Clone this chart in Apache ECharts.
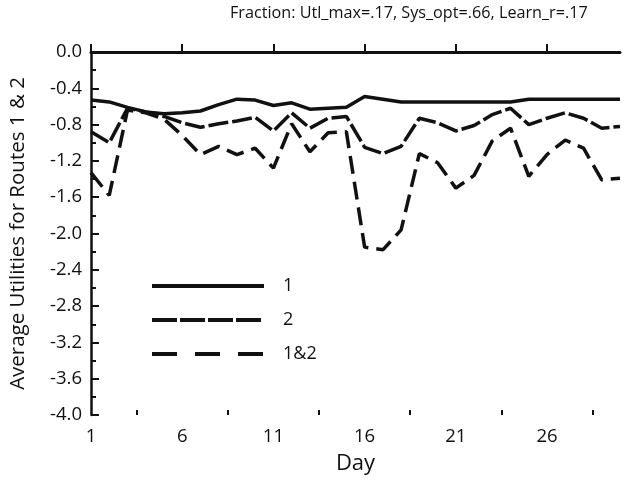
<!DOCTYPE html>
<html>
<head>
<meta charset="utf-8">
<script src="https://cdn.jsdelivr.net/npm/echarts@6/dist/echarts.min.js"></script>
<style>html,body{margin:0;padding:0;background:#fff}#c{width:630px;height:480px}</style>
</head>
<body>
<div id="c"></div>
<script>
var titleText = "Fraction: Utl_max=.17, Sys_opt=.66, Learn_r=.17";
var days = [1,2,3,4,5,6,7,8,9,10,11,12,13,14,15,16,17,18,19,20,21,22,23,24,25,26,27,28,29,30];
var route1 = [-0.53,-0.55,-0.61,-0.66,-0.68,-0.67,-0.65,-0.58,-0.52,-0.53,-0.59,-0.56,-0.63,-0.62,-0.61,-0.49,-0.52,-0.55,-0.55,-0.55,-0.55,-0.55,-0.55,-0.55,-0.52,-0.52,-0.52,-0.52,-0.52,-0.52];
var route2 = [-0.88,-1.00,-0.62,-0.66,-0.71,-0.78,-0.83,-0.79,-0.76,-0.72,-0.87,-0.67,-0.84,-0.73,-0.71,-1.05,-1.12,-1.04,-0.73,-0.78,-0.87,-0.81,-0.69,-0.62,-0.80,-0.73,-0.67,-0.73,-0.84,-0.82];
var route12 = [-1.33,-1.58,-0.64,-0.67,-0.74,-0.92,-1.13,-1.04,-1.13,-1.06,-1.28,-0.79,-1.10,-0.89,-0.88,-2.15,-2.18,-1.96,-1.12,-1.22,-1.50,-1.36,-0.98,-0.84,-1.37,-1.13,-0.97,-1.06,-1.41,-1.39];
var seriesNames = ["1","2","1&2"];
var xLabelDays = [1,6,11,16,21,26];
var xMinorDays = [3.5,8.5,13.5,18.5,23.5,28.5];
var xName = "Day";
var yName = "Average Utilities for Routes 1 & 2";

function zip(xs, ys){ return xs.map(function(x,i){ return [x, ys[i]]; }); }

var FONT = "Open Sans";
var BLACK = "#111";
var hidden = {opacity:0, borderWidth:0};
var chart = echarts.init(document.getElementById('c'), null, {renderer:'canvas'});
chart.setOption({
  animation:false,
  backgroundColor:'#fff',
  title:{text:titleText, left:230, top:5, padding:0,
    textStyle:{fontFamily:FONT, fontSize:16.2, fontWeight:'normal', color:BLACK}},
  grid:{left:91, top:52, width:529, height:363, containLabel:false},
  legend:{orient:'vertical', left:150, top:277, padding:0, itemWidth:112, itemHeight:14, itemGap:16,
    textStyle:{fontFamily:FONT, fontSize:18, color:BLACK, padding:[0,0,0,14]},
    data:[
      {name:seriesNames[0], itemStyle:hidden, lineStyle:{width:4, type:'solid', color:BLACK}},
      {name:seriesNames[1], itemStyle:hidden, lineStyle:{width:4, type:[25,3], color:BLACK}},
      {name:seriesNames[2], itemStyle:hidden, lineStyle:{width:4, type:[25,18], color:BLACK}}
    ]},
  xAxis:[{
    type:'value', min:1, max:30, position:'bottom',
    name:xName, nameLocation:'middle', nameGap:38,
    nameTextStyle:{fontFamily:FONT, fontSize:22, color:BLACK},
    axisLine:{lineStyle:{color:BLACK, width:3}},
    axisTick:{inside:true, length:8, customValues:xLabelDays, lineStyle:{color:BLACK, width:2}},
    axisLabel:{customValues:xLabelDays, margin:12, fontFamily:FONT, fontSize:18.5, color:BLACK},
    splitLine:{show:false}
  },{
    type:'value', min:1, max:30, position:'bottom',
    axisLine:{show:false},
    axisTick:{inside:true, length:5, customValues:xMinorDays, lineStyle:{color:BLACK, width:2}},
    axisLabel:{show:false},
    splitLine:{show:false}
  }],
  yAxis:{
    type:'value', min:-4, max:0, interval:0.4,
    name:yName, nameLocation:'middle', nameGap:62,
    nameTextStyle:{fontFamily:FONT, fontSize:20.5, color:BLACK},
    axisLine:{lineStyle:{color:BLACK, width:2.5}},
    axisTick:{inside:true, length:8, lineStyle:{color:BLACK, width:2}},
    minorTick:{show:true, splitNumber:2, length:5, lineStyle:{color:BLACK, width:2}},
    axisLabel:{margin:9, fontFamily:FONT, fontSize:18.5, color:BLACK,
      formatter:function(v){ return v.toFixed(1); }},
    splitLine:{show:false}
  },
  series:[
    {name:seriesNames[0], type:'line', data:zip(days, route1), symbol:'none', showSymbol:false,
      lineStyle:{color:BLACK, width:3.5, type:'solid'}, itemStyle:{color:BLACK}},
    {name:seriesNames[1], type:'line', data:zip(days, route2), symbol:'none', showSymbol:false,
      lineStyle:{color:BLACK, width:3.5, type:[20,4]}, itemStyle:{color:BLACK}},
    {name:seriesNames[2], type:'line', data:zip(days, route12), symbol:'none', showSymbol:false,
      lineStyle:{color:BLACK, width:3.5, type:[18,8]}, itemStyle:{color:BLACK}}
  ]
});
</script>
</body>
</html>
